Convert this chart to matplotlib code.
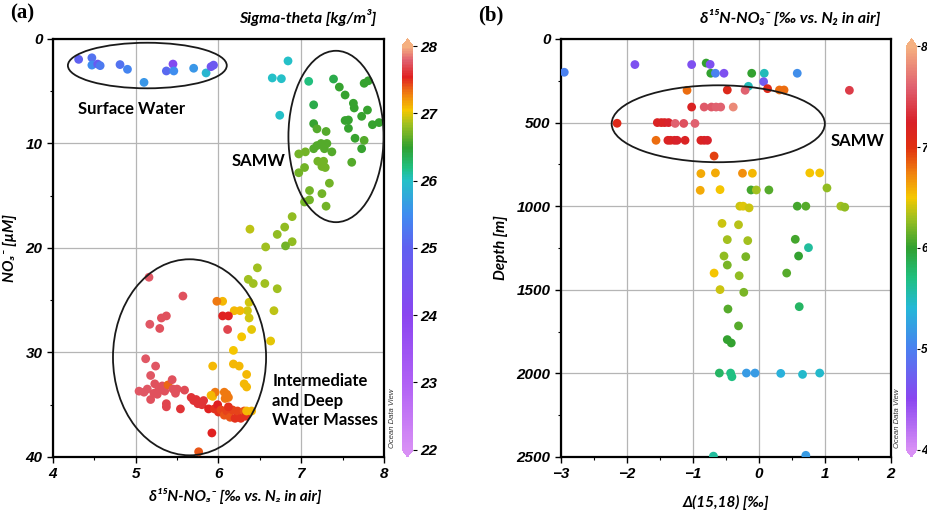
import matplotlib
matplotlib.use('Agg')
import matplotlib.pyplot as plt
from matplotlib.colors import LinearSegmentedColormap, Normalize
from matplotlib.patches import Ellipse
from matplotlib.ticker import MultipleLocator

plt.rcParams['font.family'] = ['Liberation Sans', 'DejaVu Sans']

# ---- panel (a): d15N vs NO3, coloured by sigma-theta ----
a_pts = [
    # surface water
    (4.31, 1.95, 25.0), (4.47, 1.8, 25.2), (4.47, 2.5, 25.5), (4.54, 2.4, 24.8), (4.57, 2.55, 25.3),
    (4.81, 2.45, 25.2), (4.90, 2.9, 25.4), (5.10, 4.15, 25.6), (5.37, 3.06, 25.1), (5.45, 2.4, 24.2),
    (5.46, 3.06, 25.5), (5.70, 2.8, 25.6), (5.85, 3.25, 25.9), (5.91, 2.65, 24.6), (5.94, 2.5, 24.7),
    (6.84, 2.1, 26.0), (6.65, 3.73, 26.0), (6.76, 3.8, 26.0), (6.74, 7.3, 26.0),
    # SAMW
    (7.09, 4.05, 26.2), (7.39, 3.83, 26.4), (7.76, 4.24, 26.5), (7.81, 4.0, 26.5), (7.46, 4.6, 26.5),
    (7.53, 5.36, 26.5), (7.15, 6.3, 26.4), (7.63, 6.15, 26.5), (7.64, 6.6, 26.5), (7.80, 6.8, 26.5),
    (7.73, 7.4, 26.5), (7.53, 7.8, 26.5), (7.57, 7.75, 26.5), (7.86, 8.2, 26.5), (7.94, 8.0, 26.5),
    (7.15, 8.1, 26.5), (7.19, 8.6, 26.6), (7.30, 8.85, 26.6), (7.57, 8.55, 26.5), (7.65, 9.5, 26.5),
    (7.76, 9.7, 26.6), (7.73, 10.5, 26.5), (7.15, 10.5, 26.6), (7.19, 10.2, 26.6), (7.24, 10.0, 26.6),
    (7.31, 10.0, 26.6), (7.28, 10.5, 26.6), (7.37, 10.8, 26.6), (7.61, 11.8, 26.6), (6.97, 11.0, 26.7),
    (7.05, 10.8, 26.7), (7.20, 11.7, 26.7), (7.27, 11.7, 26.7), (7.25, 12.2, 26.7), (7.29, 12.3, 26.7),
    (7.04, 12.3, 26.7), (6.97, 12.8, 26.7), (7.10, 14.5, 26.7), (7.04, 15.6, 26.7), (7.10, 15.4, 26.7),
    (7.25, 14.8, 26.7), (7.30, 16.0, 26.7), (7.34, 13.8, 26.7),
    # transition
    (6.89, 17.0, 26.8), (6.38, 18.2, 26.9), (6.80, 18.0, 26.8), (6.71, 18.7, 26.8), (6.89, 19.4, 26.8),
    (6.81, 19.8, 26.7), (6.57, 19.9, 26.85), (6.47, 21.9, 26.85), (6.36, 23.0, 26.85), (6.42, 23.4, 26.85),
    (6.56, 23.4, 26.85), (6.71, 23.9, 26.85), (6.37, 25.2, 26.95), (6.67, 26.0, 26.9), (6.35, 26.0, 26.95),
    (6.37, 26.7, 26.95), (6.40, 27.8, 27.0), (6.28, 28.5, 27.05), (6.63, 28.9, 27.0), (6.18, 29.8, 27.05),
    (5.93, 31.3, 27.1), (6.18, 31.1, 27.1), (6.25, 31.3, 27.1), (6.34, 32.1, 27.1), (6.31, 33.0, 27.1),
    (6.34, 33.3, 27.1), (5.93, 34.2, 27.1), (6.05, 25.1, 27.1), (5.98, 25.1, 27.3), (6.19, 26.0, 27.1),
    (6.26, 26.0, 27.1), (6.05, 26.5, 27.55), (6.12, 26.5, 27.55), (6.11, 27.8, 27.68),
    # intermediate and deep
    (5.16, 22.8, 27.76), (5.57, 24.6, 27.72), (5.31, 26.7, 27.74), (5.37, 26.5, 27.74), (5.17, 27.3, 27.76),
    (5.29, 27.7, 27.74), (5.12, 30.6, 27.76), (5.24, 31.3, 27.76), (5.18, 32.2, 27.76), (5.04, 33.7, 27.76),
    (5.10, 33.8, 27.76), (5.14, 33.5, 27.76), (5.18, 34.5, 27.74), (5.22, 33.9, 27.74), (5.23, 33.0, 27.74),
    (5.26, 34.0, 27.74), (5.27, 33.7, 27.74), (5.31, 33.5, 27.74), (5.32, 33.2, 27.74), (5.34, 33.4, 27.74),
    (5.35, 33.7, 27.74), (5.37, 34.9, 27.68), (5.37, 35.2, 27.68), (5.39, 33.1, 27.35), (5.44, 32.6, 27.72),
    (5.45, 33.5, 27.72), (5.48, 33.9, 27.72), (5.50, 33.5, 27.72), (5.54, 35.4, 27.62), (5.59, 33.6, 27.7),
    (5.67, 34.3, 27.62), (5.70, 34.6, 27.62), (5.73, 34.5, 27.62), (5.75, 34.9, 27.62), (5.78, 34.8, 27.62),
    (5.82, 34.6, 27.62), (5.80, 35.0, 27.62),
    (5.88, 35.4, 27.55), (5.95, 35.4, 27.5), (5.99, 35.0, 27.55), (6.00, 35.7, 27.5), (6.03, 35.5, 27.45),
    (6.07, 36.0, 27.4), (6.10, 35.6, 27.45), (6.14, 36.2, 27.4), (6.17, 35.5, 27.45), (6.20, 36.3, 27.5),
    (6.23, 35.6, 27.45), (6.27, 36.3, 27.5), (6.31, 35.6, 27.4), (6.33, 36.1, 27.5), (6.12, 35.2, 27.5),
    (6.07, 33.8, 27.3), (6.10, 34.0, 27.3), (6.12, 34.3, 27.3), (6.08, 34.4, 27.3), (5.96, 33.8, 27.3),
    (5.91, 34.1, 27.1), (6.34, 35.6, 27.1), (6.40, 35.6, 27.1),
    (5.92, 37.7, 27.55), (5.76, 39.5, 27.4),
]
a_d15n = [p[0] for p in a_pts]
a_no3 = [p[1] for p in a_pts]
a_sigma = [p[2] for p in a_pts]

# ---- panel (b): D(15,18) vs depth, coloured by d15N ----
b_pts = [
    (-2.95, 199, 5.0), (-1.88, 153, 4.6), (-1.02, 153, 4.6), (-0.80, 144, 6.0), (-0.74, 152, 4.6),
    (-0.73, 205, 6.0), (-0.66, 205, 5.0), (-0.53, 205, 4.6), (-0.11, 205, 6.0), (0.08, 205, 5.5),
    (0.58, 205, 5.1), (0.07, 255, 4.7), (-0.16, 283, 5.5), (-1.09, 307, 6.8), (-0.48, 305, 7.1),
    (-0.21, 307, 7.6), (0.13, 297, 7.1), (0.31, 305, 6.8), (0.38, 305, 6.8), (1.37, 307, 7.4),
    (-1.02, 407, 7.2), (-0.83, 407, 7.55), (-0.72, 407, 7.55), (-0.65, 407, 7.6), (-0.58, 407, 7.6),
    (-0.39, 407, 7.8),
    (-2.15, 504, 7.1), (-1.54, 500, 7.2), (-1.48, 500, 7.2), (-1.43, 500, 7.2), (-1.37, 500, 7.25),
    (-1.27, 505, 7.6), (-1.14, 505, 7.5), (-0.97, 505, 7.6),
    (-1.56, 606, 6.8), (-1.38, 606, 7.2), (-1.34, 606, 7.2), (-1.28, 606, 7.2), (-1.24, 606, 7.25),
    (-1.12, 606, 7.2), (-0.88, 606, 7.2), (-0.83, 606, 7.2), (-0.78, 606, 7.25),
    (-0.68, 700, 6.95),
    (-0.88, 805, 6.6), (-0.66, 801, 6.6), (-0.25, 803, 6.7), (-0.10, 803, 6.55), (0.77, 801, 6.5),
    (0.92, 801, 6.5),
    (-0.89, 905, 6.6), (-0.59, 901, 6.5), (-0.12, 903, 6.05), (-0.04, 903, 6.3), (0.15, 903, 6.1),
    (1.03, 891, 6.25),
    (-0.29, 1000, 6.4), (-0.24, 1000, 6.45), (-0.15, 1010, 6.4), (0.58, 1000, 6.05), (0.71, 1000, 6.1),
    (1.24, 1000, 6.3), (1.30, 1006, 6.25),
    (-0.56, 1103, 6.4), (-0.31, 1111, 6.35), (-0.48, 1200, 6.3), (-0.17, 1206, 6.3), (0.55, 1198, 6.05),
    (0.75, 1248, 5.6), (-0.53, 1298, 6.25), (-0.20, 1302, 6.2), (0.60, 1298, 6.0),
    (-0.68, 1400, 6.5), (-0.48, 1352, 6.2), (-0.30, 1416, 6.25), (0.42, 1400, 6.1), (-0.59, 1499, 6.4),
    (-0.23, 1515, 6.2), (0.61, 1601, 5.8), (-0.47, 1615, 6.1), (-0.31, 1716, 6.1), (-0.48, 1798, 6.0),
    (-0.42, 1818, 6.0),
    (-0.60, 1998, 5.8), (-0.43, 1998, 5.7), (-0.41, 2020, 5.7), (-0.19, 1998, 5.2), (-0.06, 1998, 5.2),
    (0.33, 2000, 5.35), (0.66, 2006, 5.45), (0.92, 1998, 5.45),
    (-0.69, 2495, 5.6), (0.71, 2490, 5.2),
]
b_delta = [p[0] for p in b_pts]
b_depth = [p[1] for p in b_pts]
b_d15n = [p[2] for p in b_pts]

a_xticks = [4, 5, 6, 7, 8]
a_yticks = [0, 10, 20, 30, 40]
a_cticks = [22, 23, 24, 25, 26, 27, 28]
b_xticks = [-3, -2, -1, 0, 1, 2]
b_yticks = [0, 500, 1000, 1500, 2000, 2500]
b_cticks = [4, 5, 6, 7, 8]

# ODV-like palettes
cmap_a = LinearSegmentedColormap.from_list('odv_a', [
    (0.0, '#d88ff5'), (0.167, '#b060f5'), (0.333, '#8a45f0'), (0.5, '#6060f0'),
    (0.583, '#3f8cf0'), (0.667, '#25c0c8'), (0.7, '#20c080'), (0.75, '#30a030'),
    (0.808, '#a0c020'), (0.842, '#f5c800'), (0.883, '#f08010'), (0.925, '#e02020'),
    (0.967, '#e06070'), (1.0, '#f5b080')])
cmap_b = LinearSegmentedColormap.from_list('odv_b', [
    (0.0, '#d88ff5'), (0.125, '#8a45f0'), (0.25, '#4a80f0'), (0.35, '#25b8d8'),
    (0.425, '#20c080'), (0.5, '#30a030'), (0.575, '#a0c020'), (0.625, '#f5c800'),
    (0.6875, '#f08010'), (0.75, '#e03010'), (0.8125, '#d82028'), (0.9, '#e06070'),
    (1.0, '#f5b080')])

labfont = dict(fontsize=11, fontweight='bold', fontstyle='italic', family=['Lato', 'DejaVu Sans'])
notefont = dict(fontsize=12, fontweight='bold', family=['Lato', 'DejaVu Sans'])

fig = plt.figure(figsize=(9.28, 5.11), dpi=100)


def style_axes(ax):
    for s in ax.spines.values():
        s.set_linewidth(1.6)
    ax.grid(True, which='major', color='#b5b5b5', linewidth=0.9)
    ax.set_axisbelow(True)
    ax.tick_params(which='major', direction='out', length=4, width=1)
    ax.tick_params(which='minor', direction='out', length=2.5, width=0.8)
    for lab in ax.get_xticklabels() + ax.get_yticklabels():
        lab.set_fontsize(11)
        lab.set_fontweight('bold')
        lab.set_fontstyle('italic')


def add_cbar(sc, rect, ticks, size=11, pad=2, tlen=3):
    cax = fig.add_axes(rect)
    cb = fig.colorbar(sc, cax=cax, extend='both', extendfrac=0.018, ticks=ticks)
    cb.outline.set_visible(False)
    cax.tick_params(length=tlen, width=0.8, pad=pad)
    for lab in cax.get_yticklabels():
        lab.set_fontsize(size)
        lab.set_fontweight('bold')
        lab.set_fontstyle('italic')
    cax.text(-0.5, 0.005, 'Ocean Data View', transform=cax.transAxes, rotation=90,
             fontsize=5.5, fontstyle='italic', ha='right', va='bottom', color='#333333')
    return cb


# ---- (a) ----
ax1 = fig.add_axes([0.0571, 0.1057, 0.3567, 0.818])
sc1 = ax1.scatter(a_d15n, a_no3, c=a_sigma, cmap=cmap_a, norm=Normalize(22, 28),
                  s=40, edgecolors='none', zorder=3)
ax1.set_xlim(4, 8)
ax1.set_ylim(40, 0)
ax1.set_xticks(a_xticks)
ax1.set_yticks(a_yticks)
ax1.xaxis.set_minor_locator(MultipleLocator(0.5))
ax1.yaxis.set_minor_locator(MultipleLocator(5))
style_axes(ax1)
ax1.set_xlabel('δ¹⁵N-NO₃⁻ [‰ vs. N₂ in air]', labelpad=10, **labfont)
ax1.xaxis.set_label_coords(0.55, -0.075)
ax1.set_ylabel('NO₃⁻ [µM]', labelpad=6, **labfont)

ax1.add_patch(Ellipse((5.14, 2.54), 1.92, 4.36, fill=False, lw=1.3, ec='#1a1a1a', zorder=4))
ax1.add_patch(Ellipse((7.42, 9.33), 1.15, 16.4, fill=False, lw=1.3, ec='#1a1a1a', zorder=4))
ax1.add_patch(Ellipse((5.65, 30.46), 1.85, 18.76, fill=False, lw=1.3, ec='#1a1a1a', zorder=4))
ax1.text(4.95, 6.7, 'Surface Water', ha='center', va='center', **notefont)
ax1.text(6.48, 11.7, 'SAMW', ha='center', va='center', **notefont)
ax1.text(6.65, 34.6, 'Intermediate\nand Deep\nWater Masses', ha='left', va='center',
         linespacing=1.25, **notefont)

add_cbar(sc1, [0.4332, 0.1057, 0.0119, 0.818], a_cticks)
fig.text(376 / 928, 1 - 18 / 511, 'Sigma-theta [kg/m³]', ha='right', va='center',
         fontsize=11.5, fontweight='bold', fontstyle='italic', family=['Lato', 'DejaVu Sans'])
fig.text(10 / 928, 1 - 13 / 511, '(a)', ha='left', va='center', fontsize=15,
         fontweight='bold', family=['Liberation Serif'])

# ---- (b) ----
ax2 = fig.add_axes([0.6045, 0.1057, 0.3556, 0.818])
sc2 = ax2.scatter(b_delta, b_depth, c=b_d15n, cmap=cmap_b, norm=Normalize(4, 8),
                  s=40, edgecolors='none', zorder=3)
ax2.set_xlim(-3, 2)
ax2.set_ylim(2500, 0)
ax2.set_xticks(b_xticks)
ax2.set_yticks(b_yticks)
ax2.xaxis.set_minor_locator(MultipleLocator(0.5))
ax2.yaxis.set_minor_locator(MultipleLocator(250))
style_axes(ax2)
ax2.set_xlabel('Δ(15,18) [‰]', labelpad=10, **labfont)
ax2.set_ylabel('Depth [m]', labelpad=6, **labfont)

ax2.add_patch(Ellipse((-0.617, 507), 3.23, 460, fill=False, lw=1.3, ec='#1a1a1a', zorder=4))
ax2.text(1.5, 608, 'SAMW', ha='center', va='center', **notefont)

add_cbar(sc2, [0.9765, 0.1057, 0.0115, 0.818], b_cticks, size=8.5, pad=1, tlen=2)
fig.text(880 / 928, 1 - 18 / 511, 'δ¹⁵N-NO₃⁻ [‰ vs. N₂ in air]', ha='right', va='center',
         fontsize=11.5, fontweight='bold', fontstyle='italic', family=['Lato', 'DejaVu Sans'])
fig.text(478 / 928, 1 - 15 / 511, '(b)', ha='left', va='center', fontsize=15,
         fontweight='bold', family=['Liberation Serif'])

fig.savefig('out.png', dpi=100)
